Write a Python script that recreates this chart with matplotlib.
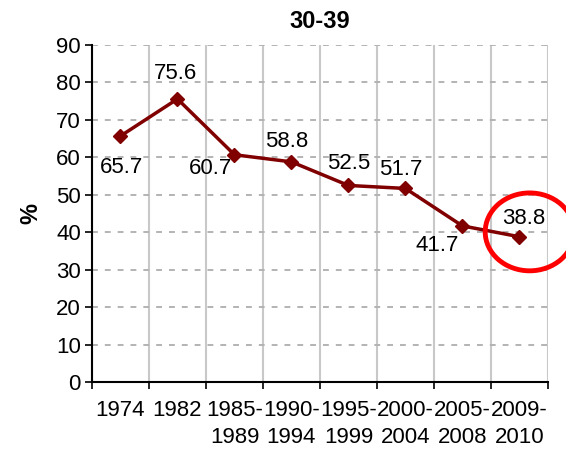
import numpy as np
import matplotlib
matplotlib.use("Agg")
import matplotlib.pyplot as plt
from matplotlib.patches import Ellipse

# data
periods = ["1974", "1982", "1985-\n1989", "1990-\n1994", "1995-\n1999",
           "2000-\n2004", "2005-\n2008", "2009-\n2010"]
values = [65.7, 75.6, 60.7, 58.8, 52.5, 51.7, 41.7, 38.8]
# label offsets in points (dx, dy) relative to each marker
label_offsets = [(0.7, -23), (-1.5, 18), (-17, -10), (-3.6, 14.4),
                 (0, 16), (-3, 14), (-18, -14.4), (3, 13)]

plt.rcParams['font.family'] = ['Liberation Sans', 'DejaVu Sans']

fig = plt.figure(figsize=(5.66, 4.55), dpi=100)
ax = fig.add_axes([0.1625, 0.1604, 0.8055, 0.7406])

x = np.arange(len(values)) + 0.5
ax.plot(x, values, color="#800000", lw=2.5, marker="D", ms=7.5, zorder=3)

for xi, v, (dx, dy) in zip(x, values, label_offsets):
    ax.annotate("{:.1f}".format(v), (xi, v), xytext=(dx, dy),
                textcoords="offset points", ha="center", va="center",
                fontsize=16, zorder=4)

ax.set_xlim(0, len(values))
ax.set_ylim(0, 90)
ax.set_yticks(np.arange(0, 91, 10))
ax.tick_params(axis="y", labelsize=16, length=5, width=1.2,
               direction="out", pad=3)

# boundaries as major ticks, labels at category centers
ax.set_xticks(np.arange(0, len(values) + 1))
ax.set_xticklabels([])
ax.set_xticks(x, minor=True)
ax.set_xticklabels(periods, minor=True, fontsize=16, linespacing=1.35,
                   va="top")
ax.tick_params(axis="x", which="major", length=5, width=1.2, direction="out")
ax.tick_params(axis="x", which="minor", length=0, pad=13)

ax.yaxis.grid(True, color="#b3b3b3", lw=1.4, ls=(0, (3, 3.6)))
ax.xaxis.grid(True, which="major", color="#c8c8c8", lw=1.5)
ax.set_axisbelow(True)
for s in ["top", "right"]:
    ax.spines[s].set_visible(False)
for s in ["left", "bottom"]:
    ax.spines[s].set_linewidth(1.5)
    ax.spines[s].set_color("black")

ax.set_title("30-39", fontsize=17, fontweight="bold", pad=12)
ax.set_ylabel("%", fontsize=17, fontweight="bold", labelpad=10)

# red circle around the last point
ax.add_patch(Ellipse((7.68, 40.1), 1.56, 20.8, fill=False, ec="#ff0000",
                     lw=3.5, clip_on=False, zorder=5))

fig.savefig("out.png", dpi=100)
